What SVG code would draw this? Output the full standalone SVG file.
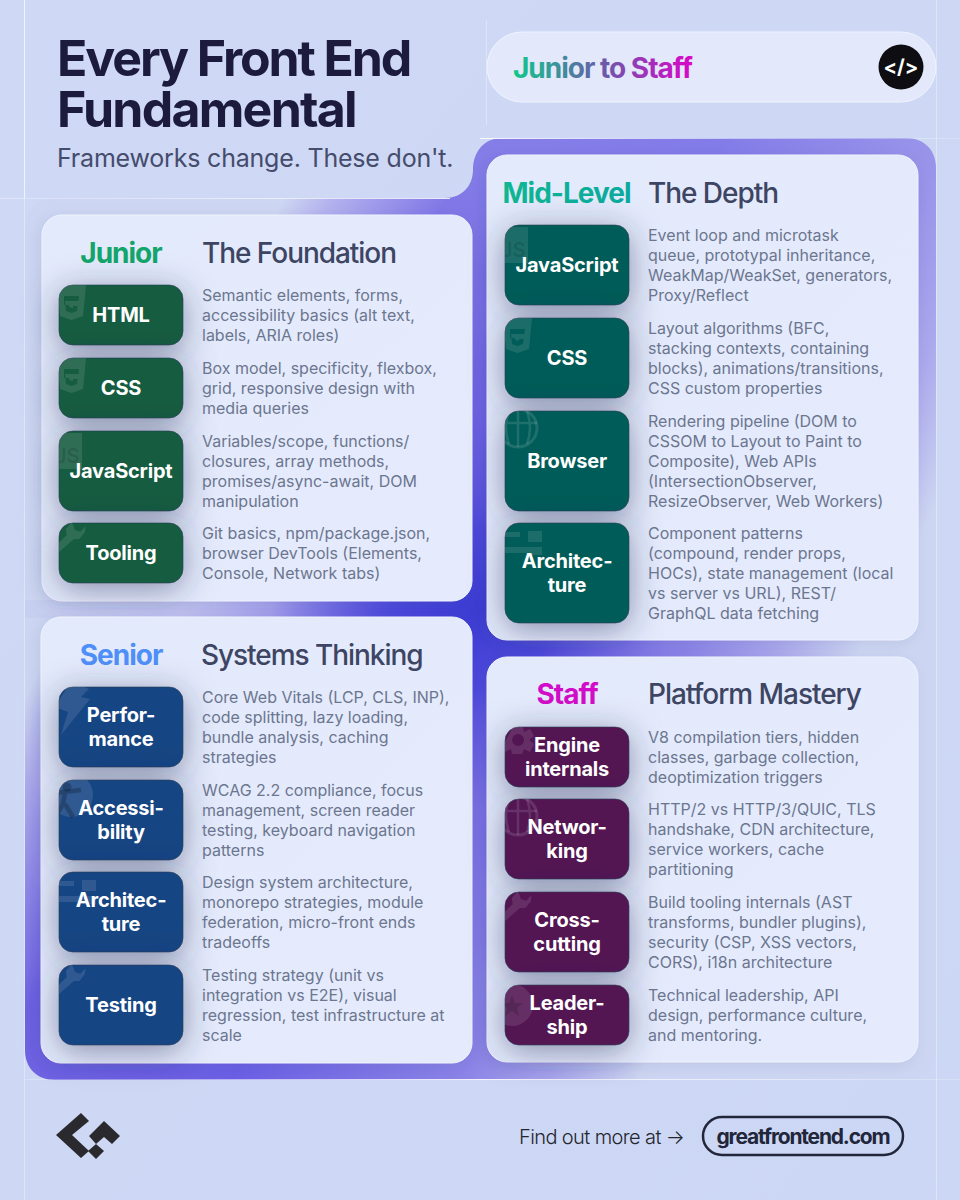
<svg xmlns="http://www.w3.org/2000/svg" xmlns:xlink="http://www.w3.org/1999/xlink" width="960" height="1200" viewBox="0 0 960 1200">
<style>
text{font-family:Inter,"Liberation Sans",sans-serif}
.title{font-size:50px;font-weight:700;fill:#1c1b3d;letter-spacing:-2.1px}
.sub{font-size:25px;font-weight:400;fill:#454c6c;letter-spacing:-.2px}
.lvl{font-size:28px;font-weight:650;text-anchor:middle;letter-spacing:-1px}
.sec{font-size:28px;font-weight:500;fill:#3d4563;letter-spacing:-1.05px}
.d{font-size:16px;fill:#6c768f;letter-spacing:0}
.p{font-size:20px;font-weight:650;fill:#fff;text-anchor:middle;letter-spacing:-.2px}
.card{fill:url(#cardFill);stroke:#eef2fd;stroke-width:1}
.pill{stroke:#2a3f55;stroke-opacity:.6;stroke-width:1;filter:url(#sh)}
.w{fill:#fff;fill-opacity:.11}
.ws{fill:none;stroke:#fff;stroke-opacity:.12}
.hl{stroke:#fff;stroke-width:1}
</style>
<defs>
<linearGradient id="bg" x1="0" y1="0" x2="1" y2="1"><stop offset="0" stop-color="#cfd9f5"/><stop offset="1" stop-color="#ccd7f5"/></linearGradient>
<linearGradient id="frame" gradientUnits="userSpaceOnUse" x1="304.700" y1="158.100" x2="943.900" y2="489.800">
<stop offset="0" stop-color="#ccd5f1"/><stop offset=".06" stop-color="#aca9ec"/><stop offset=".2" stop-color="#6f62e3"/><stop offset=".5" stop-color="#6a5fe4"/><stop offset=".78" stop-color="#8a82e6"/><stop offset=".895" stop-color="#a9a6ec"/><stop offset="1" stop-color="#ccd5f1"/>
</linearGradient>
<linearGradient id="topLight" gradientUnits="userSpaceOnUse" x1="0" y1="138" x2="0" y2="430"><stop offset="0" stop-color="#d0d8f6" stop-opacity=".24"/><stop offset="1" stop-color="#d0d8f6" stop-opacity="0"/></linearGradient>
<linearGradient id="gapFade" gradientUnits="userSpaceOnUse" x1="25" y1="0" x2="472" y2="0"><stop offset="0" stop-color="#c8d0f1"/><stop offset=".35" stop-color="#c0c2f0"/><stop offset=".55" stop-color="#a29eea"/><stop offset=".85" stop-color="#5a55de"/><stop offset="1" stop-color="#4a46da"/></linearGradient>
<radialGradient id="core" gradientUnits="userSpaceOnUse" cx="472" cy="610" r="200"><stop offset="0" stop-color="#3c3cd4"/><stop offset=".4" stop-color="#4a46da" stop-opacity=".9"/><stop offset="1" stop-color="#6a5fe4" stop-opacity="0"/></radialGradient>
<linearGradient id="cardFill" x1="0" y1="0" x2="1" y2="1"><stop offset="0" stop-color="#e3eafb"/><stop offset="1" stop-color="#e5ebfd"/></linearGradient>
<linearGradient id="tag" gradientUnits="userSpaceOnUse" x1="513" y1="0" x2="692" y2="0"><stop offset="0" stop-color="#10c98a"/><stop offset=".5" stop-color="#6a5aaa"/><stop offset="1" stop-color="#d808c8"/></linearGradient>
<linearGradient id="mid" gradientUnits="userSpaceOnUse" x1="503" y1="0" x2="632" y2="0"><stop offset="0" stop-color="#0fb792"/><stop offset="1" stop-color="#0aa9a0"/></linearGradient>
<linearGradient id="hfade" x1="0" y1="0" x2="1" y2="0"><stop offset="0" stop-color="#fff" stop-opacity=".25"/><stop offset=".5" stop-color="#fff" stop-opacity=".9"/><stop offset="1" stop-color="#fff" stop-opacity=".2"/></linearGradient>
<filter id="sh" x="-40%" y="-60%" width="180%" height="230%"><feDropShadow dx="0" dy="6" stdDeviation="16" flood-color="#27325a" flood-opacity=".5"/></filter>
<filter id="cs" x="-10%" y="-10%" width="120%" height="120%"><feDropShadow dx="-3" dy="3" stdDeviation="6" flood-color="#3a4470" flood-opacity=".1"/></filter>
<clipPath id="c"><rect width="124" height="100" rx="14"/></clipPath>
<g id="i-html"><path class="w" fill-rule="evenodd" transform="translate(-2,-3)" d="M0 3H29L26 34L14.500 38L3 34ZM7 9V14H22L21.500 19H8L9 29L14.500 31L20 29L20.600 24H16V26L12 25V23H7Z"/></g>
<g id="i-js"><rect class="w" x="-1" y="2" width="24" height="36"/><text x="-4" y="32" font-size="20" font-weight="600" fill="#000" fill-opacity=".13">JS</text></g>
<g id="i-wrench"><path class="w" transform="translate(-4,-3) scale(.9)" d="M18 3L12 10L13 17L-4 33V40L4 36L21 21L27 21L33 14L34 7L28 13L22 11L20 5Z"/></g>
<g id="i-globe"><circle class="ws" cx="13" cy="17" r="19" stroke-width="3"/><path class="ws" stroke-width="2.500" d="M13 -2V36M-6 12H32M4 0Q-2 17 4 33M22 0Q28 17 22 33"/></g>
<g id="i-bolt"><path class="w" d="M12 -6L30 2L22 10L31 12L2 48L9 25L-4 20Z"/></g>
<g id="i-a11y"><circle class="w" cx="12" cy="15" r="22"/><circle cx="8" cy="7" r="4.500" fill="#000" fill-opacity=".22"/><path d="M-5 13L22 10M6 13L4 24L-3 36M6 24L14 37" fill="none" stroke="#000" stroke-opacity=".22" stroke-width="4.500"/></g>
<g id="i-arch"><path class="w" d="M0 9H15V14H0ZM0 24H28V30H0ZM23 8H37V19H23ZM23 24H37V32H23Z"/></g>
<g id="i-gear"><path class="w" fill-rule="evenodd" d="M8 0H18L19 5L25 2L29 9L24 13L29 17L25 25L19 22L17 27H7L6 22L0 25L-4 17L1 13ZM13 7A6 6 0 1 0 13.100 19A6 6 0 1 0 13 7Z"/></g>
<g id="i-star"><circle class="w" cx="7" cy="20" r="21"/><path d="M7 10L10 18H18L12 23L14 31L7 26L0 31L2 23L-4 18H4Z" fill="#000" fill-opacity=".16"/></g>
<path id="frame-path" d="M55 198H445C462 198 473 186 473 170C473 152 484 138 502 138H906C924 138 936 150 936 168V1050C936 1068 924 1080 906 1080H55C37 1080 25 1068 25 1050V228C25 210 37 198 55 198Z"/>
</defs>

<rect id="background" width="960" height="1200" fill="url(#bg)"/>

<g id="frame-shape">
<use href="#frame-path" fill="url(#frame)"/>
<use href="#frame-path" fill="url(#topLight)"/>
<rect x="25" y="600" width="450" height="18" fill="url(#gapFade)"/>
<use href="#frame-path" fill="url(#core)"/>
</g>
<g id="hairlines">
<path class="hl" stroke-opacity=".7" d="M24.500 0V198"/>
<path class="hl" stroke-opacity=".35" d="M24.500 198V1200M936.500 0V1200M486.500 20V125M0 198.500H25"/>
<path stroke="url(#hfade)" stroke-width="1.200" d="M25 198.500H450M480 138.500H960M25 1079.500H960" fill="none"/>
</g>

<g id="header">
<text class="title" x="57" y="76">Every Front End</text>
<text class="title" x="57" y="127" style="letter-spacing:-1.75px">Fundamental</text>
<text class="sub" x="57" y="167">Frameworks change. These don't.</text>
</g>
<g id="badge">
<rect x="487" y="32" width="449" height="70" rx="35" fill="#e3e9fb" stroke="#f0f4fe"/>
<text x="513" y="78" font-size="28" font-weight="650" letter-spacing="-1" fill="url(#tag)">Junior to Staff</text>
<circle cx="901" cy="67" r="22.500" fill="#0e0e12"/>
<text x="901" y="74" font-size="20" font-weight="700" fill="#fff" text-anchor="middle">&lt;/&gt;</text>
</g>

<g id="card-junior">
<rect class="card" x="42" y="215" width="430" height="386" rx="20" filter="url(#cs)"/>
<text class="lvl" x="121" y="263" fill="#12a56c">Junior</text>
<text class="sec" x="202" y="263">The Foundation</text>
<g id="j-html" transform="translate(59,285)"><rect class="pill" width="124" height="60" rx="14" fill="#145c40"/><g clip-path="url(#c)"><use href="#i-html"/></g><text class="p" x="62" y="37">HTML</text></g>
<text class="d" x="202" y="301">Semantic elements, forms,</text>
<text class="d" x="202" y="321">accessibility basics (alt text,</text>
<text class="d" x="202" y="341">labels, ARIA roles)</text>
<g id="j-css" transform="translate(59,358)"><rect class="pill" width="124" height="60" rx="14" fill="#145c40"/><g clip-path="url(#c)"><use href="#i-html"/></g><text class="p" x="62" y="37">CSS</text></g>
<text class="d" x="202" y="374">Box model, specificity, flexbox,</text>
<text class="d" x="202" y="394">grid, responsive design with</text>
<text class="d" x="202" y="414">media queries</text>
<g id="j-js" transform="translate(59,431)"><rect class="pill" width="124" height="80" rx="14" fill="#145c40"/><g clip-path="url(#c)"><use href="#i-js"/></g><text class="p" x="62" y="47">JavaScript</text></g>
<text class="d" x="202" y="447">Variables/scope, functions/</text>
<text class="d" x="202" y="467">closures, array methods,</text>
<text class="d" x="202" y="487">promises/async-await, DOM</text>
<text class="d" x="202" y="507">manipulation</text>
<g id="j-tool" transform="translate(59,523)"><rect class="pill" width="124" height="60" rx="14" fill="#145c40"/><g clip-path="url(#c)"><use href="#i-wrench"/></g><text class="p" x="62" y="37">Tooling</text></g>
<text class="d" x="202" y="539">Git basics, npm/package.json,</text>
<text class="d" x="202" y="559">browser DevTools (Elements,</text>
<text class="d" x="202" y="579">Console, Network tabs)</text>
</g>

<g id="card-senior">
<rect class="card" x="41" y="617" width="431" height="446" rx="20" filter="url(#cs)"/>
<text class="lvl" x="121" y="665" fill="#4f8ff8">Senior</text>
<text class="sec" x="201" y="665">Systems Thinking</text>
<g id="s-perf" transform="translate(59,687)"><rect class="pill" width="124" height="80" rx="14" fill="#164583"/><g clip-path="url(#c)"><use href="#i-bolt"/></g><text class="p" x="62" y="35">Perfor-</text><text class="p" x="62" y="59">mance</text></g>
<text class="d" x="202" y="703">Core Web Vitals (LCP, CLS, INP),</text>
<text class="d" x="202" y="723">code splitting, lazy loading,</text>
<text class="d" x="202" y="743">bundle analysis, caching</text>
<text class="d" x="202" y="763">strategies</text>
<g id="s-a11y" transform="translate(59,780)"><rect class="pill" width="124" height="80" rx="14" fill="#164583"/><g clip-path="url(#c)"><use href="#i-a11y"/></g><text class="p" x="62" y="35">Accessi-</text><text class="p" x="62" y="59">bility</text></g>
<text class="d" x="202" y="796">WCAG 2.2 compliance, focus</text>
<text class="d" x="202" y="816">management, screen reader</text>
<text class="d" x="202" y="836">testing, keyboard navigation</text>
<text class="d" x="202" y="856">patterns</text>
<g id="s-arch" transform="translate(59,872)"><rect class="pill" width="124" height="80" rx="14" fill="#164583"/><g clip-path="url(#c)"><use href="#i-arch"/></g><text class="p" x="62" y="35">Architec-</text><text class="p" x="62" y="59">ture</text></g>
<text class="d" x="202" y="888">Design system architecture,</text>
<text class="d" x="202" y="908">monorepo strategies, module</text>
<text class="d" x="202" y="928">federation, micro-front ends</text>
<text class="d" x="202" y="948">tradeoffs</text>
<g id="s-test" transform="translate(59,965)"><rect class="pill" width="124" height="80" rx="14" fill="#164583"/><g clip-path="url(#c)"><use href="#i-wrench"/></g><text class="p" x="62" y="47">Testing</text></g>
<text class="d" x="202" y="981">Testing strategy (unit vs</text>
<text class="d" x="202" y="1001">integration vs E2E), visual</text>
<text class="d" x="202" y="1021">regression, test infrastructure at</text>
<text class="d" x="202" y="1041">scale</text>
</g>

<g id="card-mid">
<rect class="card" x="487" y="155" width="431" height="485" rx="20" filter="url(#cs)"/>
<text class="lvl" x="566.500" y="203" fill="url(#mid)">Mid-Level</text>
<text class="sec" x="648" y="203">The Depth</text>
<g id="m-js" transform="translate(505,225)"><rect class="pill" width="124" height="80" rx="14" fill="#055c58"/><g clip-path="url(#c)"><use href="#i-js"/></g><text class="p" x="62" y="47">JavaScript</text></g>
<text class="d" x="648" y="241">Event loop and microtask</text>
<text class="d" x="648" y="261">queue, prototypal inheritance,</text>
<text class="d" x="648" y="281">WeakMap/WeakSet, generators,</text>
<text class="d" x="648" y="301">Proxy/Reflect</text>
<g id="m-css" transform="translate(505,318)"><rect class="pill" width="124" height="80" rx="14" fill="#055c58"/><g clip-path="url(#c)"><use href="#i-html"/></g><text class="p" x="62" y="47">CSS</text></g>
<text class="d" x="648" y="334">Layout algorithms (BFC,</text>
<text class="d" x="648" y="354">stacking contexts, containing</text>
<text class="d" x="648" y="374">blocks), animations/transitions,</text>
<text class="d" x="648" y="394">CSS custom properties</text>
<g id="m-browser" transform="translate(505,411)"><rect class="pill" width="124" height="100" rx="14" fill="#055c58"/><g clip-path="url(#c)"><use href="#i-globe"/></g><text class="p" x="62" y="57">Browser</text></g>
<text class="d" x="648" y="427">Rendering pipeline (DOM to</text>
<text class="d" x="648" y="447">CSSOM to Layout to Paint to</text>
<text class="d" x="648" y="467">Composite), Web APIs</text>
<text class="d" x="648" y="487">(IntersectionObserver,</text>
<text class="d" x="648" y="507">ResizeObserver, Web Workers)</text>
<g id="m-arch" transform="translate(505,523)"><rect class="pill" width="124" height="100" rx="14" fill="#055c58"/><g clip-path="url(#c)"><use href="#i-arch"/></g><text class="p" x="62" y="45">Architec-</text><text class="p" x="62" y="69">ture</text></g>
<text class="d" x="648" y="539">Component patterns</text>
<text class="d" x="648" y="559">(compound, render props,</text>
<text class="d" x="648" y="579">HOCs), state management (local</text>
<text class="d" x="648" y="599">vs server vs URL), REST/</text>
<text class="d" x="648" y="619">GraphQL data fetching</text>
</g>

<g id="card-staff">
<rect class="card" x="487" y="657" width="431" height="405" rx="20" filter="url(#cs)"/>
<text class="lvl" x="567" y="704" fill="#d20cc8">Staff</text>
<text class="sec" x="648" y="704">Platform Mastery</text>
<g id="t-engine" transform="translate(505,727)"><rect class="pill" width="124" height="60" rx="14" fill="#531552"/><g clip-path="url(#c)"><use href="#i-gear"/></g><text class="p" x="62" y="25">Engine</text><text class="p" x="62" y="49">internals</text></g>
<text class="d" x="648" y="743">V8 compilation tiers, hidden</text>
<text class="d" x="648" y="763">classes, garbage collection,</text>
<text class="d" x="648" y="783">deoptimization triggers</text>
<g id="t-net" transform="translate(505,799)"><rect class="pill" width="124" height="80" rx="14" fill="#531552"/><g clip-path="url(#c)"><use href="#i-globe"/></g><text class="p" x="62" y="35">Networ-</text><text class="p" x="62" y="59">king</text></g>
<text class="d" x="648" y="815">HTTP/2 vs HTTP/3/QUIC, TLS</text>
<text class="d" x="648" y="835">handshake, CDN architecture,</text>
<text class="d" x="648" y="855">service workers, cache</text>
<text class="d" x="648" y="875">partitioning</text>
<g id="t-cross" transform="translate(505,892)"><rect class="pill" width="124" height="80" rx="14" fill="#531552"/><g clip-path="url(#c)"><use href="#i-wrench"/></g><text class="p" x="62" y="35">Cross-</text><text class="p" x="62" y="59">cutting</text></g>
<text class="d" x="648" y="908">Build tooling internals (AST</text>
<text class="d" x="648" y="928">transforms, bundler plugins),</text>
<text class="d" x="648" y="948">security (CSP, XSS vectors,</text>
<text class="d" x="648" y="968">CORS), i18n architecture</text>
<g id="t-lead" transform="translate(505,985)"><rect class="pill" width="124" height="60" rx="14" fill="#531552"/><g clip-path="url(#c)"><use href="#i-star"/></g><text class="p" x="62" y="25">Leader-</text><text class="p" x="62" y="49">ship</text></g>
<text class="d" x="648" y="1001">Technical leadership, API</text>
<text class="d" x="648" y="1021">design, performance culture,</text>
<text class="d" x="648" y="1041">and mentoring.</text>
</g>

<g id="footer">
<g id="logo" fill="#2a2a2e">
<path d="M81 1113L56 1135L81 1158L89 1151L72 1135L89 1121Z"/>
<path d="M89 1136L104 1121L120 1136L112 1144L104 1137L96 1144Z"/>
<path d="M96 1144L104 1151L96 1159L88 1151Z"/>
</g>
<text x="519" y="1144" font-size="20" font-weight="300" fill="#25262e" letter-spacing="-.6">Find out more at →</text>
<rect x="703" y="1117" width="200" height="38" rx="19" fill="none" stroke="#22263a" stroke-width="2.500"/>
<text x="803" y="1144" font-size="21" font-weight="700" fill="#22263a" text-anchor="middle" letter-spacing="-1.2">greatfrontend.com</text>
</g>
</svg>
